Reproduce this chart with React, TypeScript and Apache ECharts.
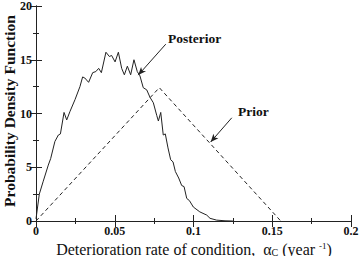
import React, { useEffect, useRef } from "react";
import * as echarts from "echarts";

const posteriorX = [0, 0.0021, 0.0046, 0.0078, 0.0093, 0.012, 0.0142, 0.0155, 0.0178, 0.0195, 0.0216, 0.0248, 0.0279, 0.0296, 0.031, 0.0334, 0.036, 0.038, 0.0398, 0.0415, 0.0444, 0.0466, 0.048, 0.0502, 0.0523, 0.0544, 0.0561, 0.058, 0.0601, 0.0622, 0.0643, 0.066, 0.0681, 0.0703, 0.0724, 0.0745, 0.0767, 0.0777, 0.0792, 0.0808, 0.0821, 0.0838, 0.0855, 0.087, 0.0885, 0.0906, 0.0925, 0.094, 0.0957, 0.0974, 0.0999, 0.104, 0.1084, 0.1105, 0.1147, 0.12, 0.125];
const posteriorY = [0.2, 2.5, 3.7, 5.2, 5.8, 7.4, 8.0, 8.1, 10.1, 9.4, 10.2, 11.3, 12.5, 13.4, 13.3, 12.9, 13.8, 13.9, 14.2, 13.8, 15.7, 15.3, 15.4, 14.8, 15.7, 14.2, 13.6, 14.4, 13.6, 15.0, 13.9, 13.5, 12.4, 12.2, 11.5, 11.0, 9.8, 9.3, 10.1, 8.0, 8.1, 6.8, 5.7, 5.5, 4.6, 4.0, 3.3, 3.2, 2.1, 1.9, 1.3, 0.85, 0.55, 0.25, 0.08, 0.02, 0];
const priorX = [0, 0.0783, 0.1554];
const priorY = [0, 12.4, 0];

const xTicks = ["0", "0.05", "0.1", "0.15", "0.2"];
const yTicks = ["0", "5", "10", "15", "20"];

const posteriorArrow = [[0.0824, 16.45], [0.0649, 13.57]];
const priorArrow = [[0.1243, 9.6], [0.1109, 7.35]];

const FONT = "Liberation Serif";

export default function App() {
  const ref = useRef<HTMLDivElement>(null);
  useEffect(() => {
    if (!ref.current) return;
    const chart = echarts.init(ref.current, null, { renderer: "svg" });
    const axisCommon = {
      axisLine: { show: true, lineStyle: { color: "#222", width: 1 } },
      axisTick: { show: true, inside: true, length: 6, lineStyle: { color: "#222" } },
      minorTick: { show: true, splitNumber: 2, length: 3, lineStyle: { color: "#222" } },
      splitLine: { show: false },
    };
    const labelStyle = { fontFamily: FONT, fontWeight: "bold" as const, fontSize: 12, color: "#111" };
    const xFmt = (v: number) => {
      const i = Math.round(v / 0.05);
      return xTicks[i] ?? "";
    };
    const yFmt = (v: number) => {
      const i = Math.round(v / 5);
      return yTicks[i] ?? "";
    };
    chart.setOption({
      animation: false,
      backgroundColor: "#fff",
      textStyle: { fontFamily: FONT },
      grid: { left: 36, right: 11, top: 2, bottom: 35 },
      xAxis: [
        {
          type: "value", min: 0, max: 0.2, interval: 0.05, position: "bottom",
          ...axisCommon,
          axisLabel: { ...labelStyle, margin: 4, formatter: xFmt },
        },
        {
          type: "value", min: 0, max: 0.2, interval: 0.05, position: "top",
          ...axisCommon,
          axisLabel: { show: false },
        },
      ],
      yAxis: [
        {
          type: "value", min: 0, max: 20, interval: 5, position: "left",
          ...axisCommon,
          axisLabel: { ...labelStyle, margin: 4, formatter: yFmt },
        },
        {
          type: "value", min: 0, max: 20, interval: 5, position: "right",
          ...axisCommon,
          axisLabel: { show: false },
        },
      ],
      series: [
        {
          type: "line",
          name: "Posterior",
          data: posteriorX.map((x, i) => [x, posteriorY[i]]),
          showSymbol: false,
          lineStyle: { color: "#222", width: 1 },
          markLine: {
            silent: true,
            symbol: ["none", "arrow"],
            symbolSize: [5, 8],
            label: { show: false },
            lineStyle: { color: "#222", width: 1, type: "solid" },
            data: [[{ coord: posteriorArrow[0] }, { coord: posteriorArrow[1] }]],
          },
        },
        {
          type: "line",
          name: "Prior",
          data: priorX.map((x, i) => [x, priorY[i]]),
          showSymbol: false,
          lineStyle: { color: "#222", width: 1, type: [4, 3] },
          markLine: {
            silent: true,
            symbol: ["none", "arrow"],
            symbolSize: [5, 8],
            label: { show: false },
            lineStyle: { color: "#222", width: 1, type: "solid" },
            data: [[{ coord: priorArrow[0] }, { coord: priorArrow[1] }]],
          },
        },
      ],
      graphic: [
        {
          type: "text", x: 168, y: 38,
          style: { text: "Posterior", fontFamily: FONT, fontWeight: "bold", fontSize: 13.5, fill: "#111", verticalAlign: "middle" },
        },
        {
          type: "text", x: 238, y: 111,
          style: { text: "Prior", fontFamily: FONT, fontWeight: "bold", fontSize: 13.5, fill: "#111", verticalAlign: "middle" },
        },
        {
          type: "text", x: 9, y: 111, rotation: Math.PI / 2,
          style: {
            text: "Probability Density Function", fontFamily: FONT, fontWeight: "bold", fontSize: 15.5, fill: "#111",
            align: "center", verticalAlign: "middle",
          },
        },
        {
          type: "text", x: 194, y: 249,
          style: {
            text: "{n|Deterioration rate of condition,  α}{sub|C}{n| (year }{sup|-1}{n|)}",
            align: "center", verticalAlign: "middle",
            rich: {
              n: { fontFamily: FONT, fontSize: 16, fill: "#111" },
              sub: { fontFamily: FONT, fontSize: 10, fill: "#111", padding: [6, 0, 0, 0] },
              sup: { fontFamily: FONT, fontSize: 9, fill: "#111", padding: [0, 0, 7, 0] },
            },
          },
        },
      ],
    });
    return () => chart.dispose();
  }, []);
  return <div ref={ref} style={{ position: "absolute", left: 0, top: 0, width: 362, height: 256 }} />;
}
